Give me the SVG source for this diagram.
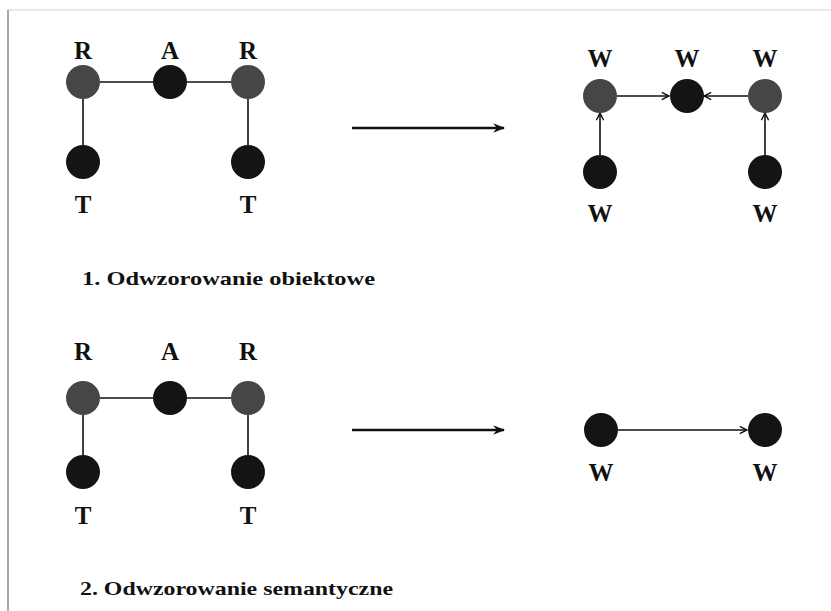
<svg xmlns="http://www.w3.org/2000/svg" width="831" height="611" viewBox="0 0 831 611">
  <style>
    .lbl { font-family: "Liberation Serif", "Times New Roman", Times, serif; font-weight: 700; font-size: 25px; fill: #111; text-anchor: middle; }
    .cap { font-family: "Liberation Serif", "Times New Roman", Times, serif; font-weight: 700; font-size: 19px; fill: #111; }
    .gray { fill: #464646; }
    .dark { fill: #141414; }
    .edge { stroke: #111; stroke-width: 1.6; fill: none; }
    .arc { stroke: #111; stroke-width: 1.3; fill: none; }
    .big { stroke: #111; stroke-width: 2.4; fill: none; }
  </style>
  <defs>
    <marker id="head" viewBox="0 0 10 10" refX="9" refY="5" markerWidth="9" markerHeight="9" markerUnits="userSpaceOnUse" orient="auto">
      <path d="M1,1 L9,5 L1,9" fill="none" stroke="#111" stroke-width="1.6"/>
    </marker>
    <marker id="bighead" viewBox="0 0 10 10" refX="9" refY="5" markerWidth="12" markerHeight="12" markerUnits="userSpaceOnUse" orient="auto">
      <path d="M0,1 L10,5 L0,9 L3,5 Z" fill="#111"/>
    </marker>
  </defs>

  <rect width="831" height="611" fill="#fff"/>
  <!-- page frame -->
  <line x1="8" y1="10" x2="831" y2="10" stroke="#e2e2e2" stroke-width="1.5"/>
  <line x1="8" y1="10" x2="8" y2="611" stroke="#8a8a8a" stroke-width="1.5"/>

  <!-- connectors -->
  <g id="connectors">
    <!-- upper source graph -->
    <line class="edge" x1="100" y1="82" x2="153" y2="82"/>
    <line class="edge" x1="186" y1="82" x2="231" y2="82"/>
    <line class="edge" x1="83" y1="99" x2="83" y2="145"/>
    <line class="edge" x1="248" y1="99" x2="248" y2="145"/>
    <!-- upper mapping arrow -->
    <line class="big" x1="352" y1="128" x2="504" y2="128" marker-end="url(#bighead)"/>
    <!-- upper target graph -->
    <line class="arc" x1="617" y1="96" x2="669" y2="96" marker-end="url(#head)"/>
    <line class="arc" x1="748" y1="96" x2="704" y2="96" marker-end="url(#head)"/>
    <line class="edge" x1="600" y1="155" x2="600" y2="113" marker-end="url(#head)"/>
    <line class="edge" x1="765" y1="155" x2="765" y2="113" marker-end="url(#head)"/>
    <!-- lower source graph -->
    <line class="edge" x1="100" y1="398" x2="153" y2="398"/>
    <line class="edge" x1="186" y1="398" x2="231" y2="398"/>
    <line class="edge" x1="83" y1="415" x2="83" y2="455"/>
    <line class="edge" x1="248" y1="415" x2="248" y2="455"/>
    <!-- lower mapping arrow -->
    <line class="big" x1="352" y1="430" x2="504" y2="430" marker-end="url(#bighead)"/>
    <!-- lower target graph -->
    <line class="arc" x1="618" y1="430" x2="747" y2="430" marker-end="url(#head)"/>
  </g>

  <!-- upper source graph -->
  <g id="r1"><circle class="gray" cx="83" cy="82" r="17"/><text class="lbl" x="83" y="59">R</text></g>
  <g id="a1"><circle class="dark" cx="170" cy="82" r="17"/><text class="lbl" x="170" y="59">A</text></g>
  <g id="r2"><circle class="gray" cx="248" cy="82" r="17"/><text class="lbl" x="248" y="59">R</text></g>
  <g id="t1"><circle class="dark" cx="83" cy="162" r="17"/><text class="lbl" x="83" y="213">T</text></g>
  <g id="t2"><circle class="dark" cx="248" cy="162" r="17"/><text class="lbl" x="248" y="213">T</text></g>

  <!-- upper target graph -->
  <g id="w1"><circle class="gray" cx="600" cy="96" r="17"/><text class="lbl" x="600" y="67">W</text></g>
  <g id="w2"><circle class="dark" cx="687" cy="96" r="17"/><text class="lbl" x="687" y="67">W</text></g>
  <g id="w3"><circle class="gray" cx="765" cy="96" r="17"/><text class="lbl" x="765" y="67">W</text></g>
  <g id="w4"><circle class="dark" cx="600" cy="172" r="17"/><text class="lbl" x="600" y="222">W</text></g>
  <g id="w5"><circle class="dark" cx="765" cy="172" r="17"/><text class="lbl" x="765" y="222">W</text></g>

  <text class="cap" x="82" y="285" textLength="293" lengthAdjust="spacingAndGlyphs">1. Odwzorowanie obiektowe</text>

  <!-- lower source graph -->
  <g id="r3"><circle class="gray" cx="83" cy="398" r="17"/><text class="lbl" x="83" y="360">R</text></g>
  <g id="a2"><circle class="dark" cx="170" cy="398" r="17"/><text class="lbl" x="170" y="360">A</text></g>
  <g id="r4"><circle class="gray" cx="248" cy="398" r="17"/><text class="lbl" x="248" y="360">R</text></g>
  <g id="t3"><circle class="dark" cx="83" cy="472" r="17"/><text class="lbl" x="83" y="524">T</text></g>
  <g id="t4"><circle class="dark" cx="248" cy="472" r="17"/><text class="lbl" x="248" y="524">T</text></g>

  <!-- lower target graph -->
  <g id="w6"><circle class="dark" cx="601" cy="430" r="17"/><text class="lbl" x="601" y="481">W</text></g>
  <g id="w7"><circle class="dark" cx="765" cy="430" r="17"/><text class="lbl" x="765" y="481">W</text></g>

  <text class="cap" x="80" y="595" textLength="313" lengthAdjust="spacingAndGlyphs">2. Odwzorowanie semantyczne</text>
</svg>
